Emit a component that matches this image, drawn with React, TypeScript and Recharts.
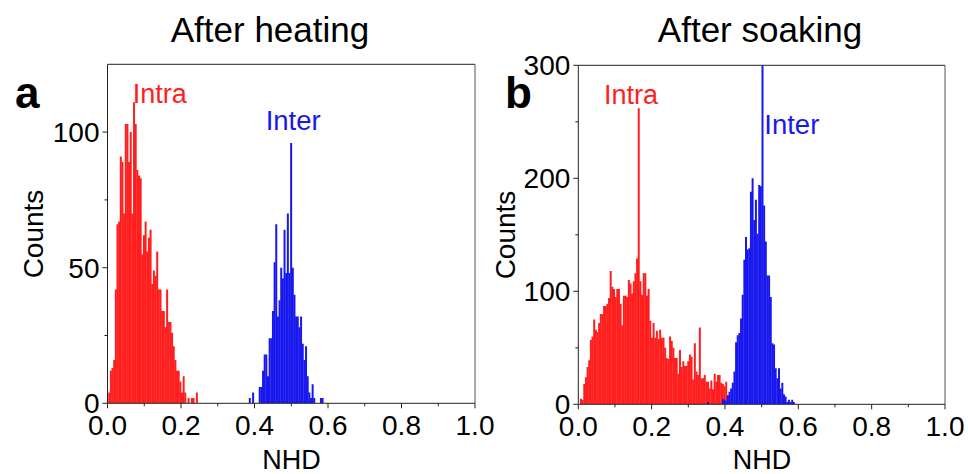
import React from "react";
import { ComposedChart, Bar, XAxis, YAxis } from "recharts";

// histogram bin width (NHD units)
const BIN = 0.0045;

// After heating (panel a)
const heatStart = 0.002;
const heatIntra = [
  4, 12, 13, 16, 42, 66, 67, 91, 89, 70, 103, 103, 89, 100, 70, 111, 103, 86, 84, 83,
  55, 62, 67, 56, 61, 64, 44, 49, 47, 56, 42, 42, 34, 34, 28, 42, 30, 30, 26, 21,
  16, 12, 12, 8, 4, 10, 4, 0, 2, 0, 2, 2, 0, 4,
];
const heatInterBin = 85;
const heatInter = [
  2, 0, 4, 0, 0, 0, 6, 6, 12, 18, 18, 10, 24, 24, 34, 52, 66, 32, 38, 50,
  46, 64, 48, 70, 48, 96, 50, 40, 32, 32, 28, 32, 22, 16, 21, 10, 4, 2, 7, 2,
  0, 0, 0, 2, 2,
];

// After soaking (panel b)
const soakStart = 0.0046;
const soakIntra = [
  5, 4, 18, 24, 33, 39, 57, 60, 75, 66, 64, 72, 80, 80, 87, 87, 89, 94, 118, 104,
  102, 95, 102, 102, 89, 70, 96, 96, 95, 110, 107, 98, 109, 116, 129, 262, 109, 97, 116,
  116, 96, 102, 74, 59, 72, 59, 65, 58, 66, 59, 59, 50, 41, 40, 60, 56, 50, 41, 41,
  27, 48, 33, 38, 34, 34, 38, 44, 42, 22, 54, 29, 26, 68,
  23, 23, 26, 20, 20, 14, 21, 13, 27, 20, 26, 26, 19, 18, 16, 20, 8,
];
const soakInterBin = 77;
const soakInter = [
  2, 0, 0, 0, 0, 0, 0, 0, 0, 5, 4, 3, 8, 11, 14, 19, 29, 55, 61, 63,
  76, 97, 128, 148, 137, 138, 188, 200, 163, 181, 151, 194, 193, 300, 176, 144, 114, 114, 95, 54,
  53, 32, 23, 32, 14, 19, 9, 7, 2, 4, 2, 4, 2,
];

const xTicks = [0, 0.1, 0.2, 0.3, 0.4, 0.5, 0.6, 0.7, 0.8, 0.9, 1.0];
const heatYTicks = [0, 25, 50, 75, 100];
const soakYTicks = [0, 50, 100, 150, 200, 250, 300];

const FONT = '"Liberation Sans", Arial, Helvetica, sans-serif';
const AXIS = "#222";
const RED = "#ff1e1e";
const BLUE = "#1818ee";

function buildRows(start: number, intra: number[], interBin: number, inter: number[]) {
  const n = Math.max(intra.length, interBin + inter.length);
  const rows: any[] = [];
  for (let i = 0; i < n; i++) {
    rows.push({
      x: start + (i + 0.5) * BIN,
      intra: i < intra.length ? intra[i] : undefined,
      inter: i >= interBin && i - interBin < inter.length ? inter[i - interBin] : undefined,
    });
  }
  return rows;
}

const heatRows = buildRows(heatStart, heatIntra, heatInterBin, heatInter);
const soakRows = buildRows(soakStart, soakIntra, soakInterBin, soakInter);

const XTick = (props: any) => {
  const { x, y, payload } = props;
  const v = payload.value;
  const major = Math.round(v * 10) % 2 === 0;
  return (
    <g>
      <line x1={x} x2={x} y1={y} y2={y + (major ? 5 : 3)} stroke={AXIS} />
      {major && (
        <text x={x} y={y + 32} textAnchor="middle" fontSize={28} fontFamily={FONT} fill="#000">
          {v.toFixed(1)}
        </text>
      )}
    </g>
  );
};

const makeYTick = (step: number) => (props: any) => {
  const { x, y, payload } = props;
  const v = payload.value;
  const major = v % step === 0;
  return (
    <g>
      <line x1={x} x2={x - (major ? 5 : 3)} y1={y} y2={y} stroke={AXIS} />
      {major && (
        <text x={x - 8} y={y + 10} textAnchor="end" fontSize={28} fontFamily={FONT} fill="#000">
          {v}
        </text>
      )}
    </g>
  );
};

interface PanelProps {
  rows: any[]
  yMax: number
  yTicks: number[]
  yStep: number
  width: number
  margin: { top: number; right: number; bottom: number; left: number }
}

const Panel: React.FC<PanelProps> = ({ rows, yMax, yTicks, yStep, width, margin }) => {
  return (
    <ComposedChart width={width} height={474} data={rows} margin={margin} barCategoryGap={0} barGap={0}>
      <XAxis
        xAxisId="a"
        dataKey="x"
        type="number"
        domain={[0, 1]}
        ticks={xTicks}
        allowDataOverflow
        height={40}
        tickSize={0}
        tickMargin={0}
        tickLine={false}
        axisLine={{ stroke: AXIS }}
        tick={XTick}
        interval={0}
      />
      <XAxis
        xAxisId="b"
        dataKey="x"
        type="number"
        domain={[0, 1]}
        ticks={xTicks}
        allowDataOverflow
        orientation="top"
        height={1}
        tick={false}
        tickLine={false}
        axisLine={{ stroke: AXIS }}
      />
      <YAxis
        yAxisId="l"
        type="number"
        domain={[0, yMax]}
        ticks={yTicks}
        allowDataOverflow
        width={60}
        tickSize={0}
        tickMargin={0}
        tickLine={false}
        axisLine={{ stroke: AXIS }}
        tick={makeYTick(yStep)}
        interval={0}
      />
      <YAxis
        yAxisId="r"
        orientation="right"
        type="number"
        domain={[0, yMax]}
        allowDataOverflow
        width={1}
        tick={false}
        tickLine={false}
        axisLine={{ stroke: "#555" }}
      />
      <Bar dataKey="intra" xAxisId="a" yAxisId="l" fill={RED} isAnimationActive={false} />
      <Bar dataKey="inter" xAxisId="b" yAxisId="l" fill={BLUE} isAnimationActive={false} />
    </ComposedChart>
  );
};

export default function App() {
  return (
    <div style={{ position: "absolute", left: 0, top: 0, width: 968, height: 474, background: "#fff", overflow: "hidden" }}>
      <div style={{ position: "absolute", left: 0, top: 0 }}>
        <Panel
          rows={heatRows}
          yMax={125}
          yTicks={heatYTicks}
          yStep={50}
          width={520}
          margin={{ top: 63.3, right: 44, bottom: 30.7, left: 47.5 }}
        />
      </div>
      <div style={{ position: "absolute", left: 484, top: 0 }}>
        <Panel
          rows={soakRows}
          yMax={300}
          yTicks={soakYTicks}
          yStep={100}
          width={484}
          margin={{ top: 64.3, right: 22, bottom: 29.7, left: 34.3 }}
        />
      </div>
      <svg
        width={968}
        height={474}
        style={{ position: "absolute", left: 0, top: 0, pointerEvents: "none" }}
        fontFamily={FONT}
      >
        <text x={270} y={42} fontSize={35} textAnchor="middle" fill="#000">After heating</text>
        <text x={760} y={42} fontSize={35} textAnchor="middle" fill="#000">After soaking</text>
        <text x={15} y={108} fontSize={44} fontWeight="bold" fill="#000">a</text>
        <text x={505} y={108} fontSize={44} fontWeight="bold" fill="#000">b</text>
        <text x={132.7} y={102.7} fontSize={27} fill={RED}>Intra</text>
        <text x={265.7} y={129.5} fontSize={27.5} fill={BLUE}>Inter</text>
        <text x={604} y={104} fontSize={27} fill={RED}>Intra</text>
        <text x={764.3} y={133.5} fontSize={27.5} fill={BLUE}>Inter</text>
        <text transform="translate(43.3,234) rotate(-90)" fontSize={28} textAnchor="middle" fill="#000">Counts</text>
        <text transform="translate(515,235) rotate(-90)" fontSize={28} textAnchor="middle" fill="#000">Counts</text>
        <text x={291.5} y={469} fontSize={27} textAnchor="middle" fill="#000">NHD</text>
        <text x={762} y={469} fontSize={27} textAnchor="middle" fill="#000">NHD</text>
      </svg>
    </div>
  );
}
